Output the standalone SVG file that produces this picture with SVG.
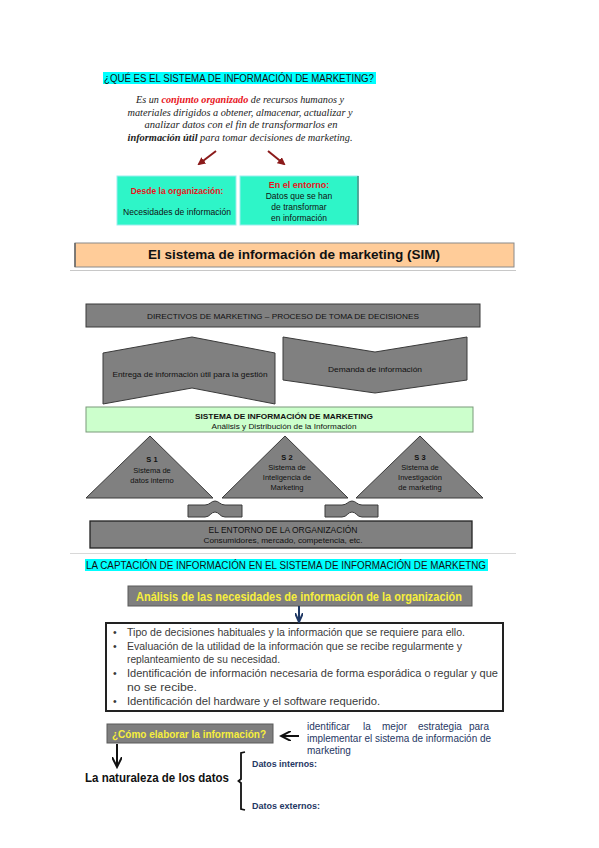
<svg xmlns="http://www.w3.org/2000/svg" width="599" height="848" viewBox="0 0 599 848">
<style>
.sans{font-family:"Liberation Sans",Arial,sans-serif}
.serif{font-family:"Liberation Serif","Times New Roman",serif}
.gshape{fill:#808080;stroke:#3a3a3a;stroke-width:1}
.gt{font-family:"Liberation Sans",Arial,sans-serif;fill:#111;text-anchor:middle}
.aqua{fill:#2ef5c8;stroke:#9ee;stroke-width:1}
.bul{font-family:"Liberation Sans",Arial,sans-serif;font-size:10.5px;fill:#3a3a3a}
.navy{fill:#1f3864}
.yel{font-family:"Liberation Sans",Arial,sans-serif;font-weight:bold;fill:#f7ef3c}
</style>
<defs>
<marker id="mRed" markerWidth="8" markerHeight="8" refX="6" refY="4" orient="auto" markerUnits="userSpaceOnUse"><path d="M0,0 L8,4 L0,8 Z" fill="#8b1a1a"/></marker>
<marker id="mNavy" markerWidth="10" markerHeight="8" refX="8" refY="4" orient="auto" markerUnits="userSpaceOnUse"><path d="M0,0 L9,4 L0,8" fill="none" stroke="#1f3864" stroke-width="2"/></marker>
<marker id="mBlack" markerWidth="12" markerHeight="10" refX="10" refY="5" orient="auto" markerUnits="userSpaceOnUse"><path d="M0,0 L10,5 L0,10" fill="none" stroke="#111" stroke-width="2"/></marker>
</defs>
<rect width="599" height="848" fill="#fff"/>

<g id="titulo1">
<rect x="103" y="72" width="273" height="12" fill="#00ffff"/>
<text x="104" y="82" class="sans" font-size="10" textLength="270" lengthAdjust="spacingAndGlyphs" fill="#111">¿QUÉ ES EL SISTEMA DE INFORMACIÓN DE MARKETING?</text>
</g>

<g id="definicion" class="serif" font-style="italic" font-size="11" fill="#222" text-anchor="middle">
<text x="240" y="103" textLength="208" lengthAdjust="spacingAndGlyphs">Es un <tspan fill="#e8141b" font-weight="bold">conjunto organizado</tspan> de recursos humanos y</text>
<text x="240" y="116" textLength="225" lengthAdjust="spacingAndGlyphs">materiales dirigidos a obtener, almacenar, actualizar y</text>
<text x="241" y="128" textLength="193" lengthAdjust="spacingAndGlyphs">analizar datos con el fin de transformarlos en</text>
<text x="240" y="141" textLength="225" lengthAdjust="spacingAndGlyphs"><tspan font-weight="bold">información  útil</tspan> para tomar decisiones de marketing.</text>
</g>

<g id="organizacion">
<rect x="117" y="176" width="119" height="49" class="aqua"/>
<text x="177" y="194" class="sans" font-size="8.5" font-weight="bold" fill="#e8141b" text-anchor="middle">Desde la organización:</text>
<text x="177" y="215" class="sans" font-size="8.5" fill="#111" text-anchor="middle" textLength="108" lengthAdjust="spacingAndGlyphs">Necesidades de información</text>
</g>

<g id="entorno1">
<rect x="240" y="176" width="118" height="49" class="aqua"/>
<line x1="358" y1="176" x2="358" y2="225" stroke="#3a8f80" stroke-width="1.5"/>
<text x="299" y="188" class="sans" font-size="9" font-weight="bold" fill="#e8141b" text-anchor="middle">En el entorno:</text>
<text x="299" y="199" class="sans" font-size="8.5" fill="#111" text-anchor="middle">Datos que se han</text>
<text x="299" y="210" class="sans" font-size="8.5" fill="#111" text-anchor="middle">de transformar</text>
<text x="299" y="221" class="sans" font-size="8.5" fill="#111" text-anchor="middle">en información</text>
</g>

<g id="sim-titulo">
<rect x="75" y="243" width="439" height="24" fill="#ffcc99" stroke="#8a8a8a" stroke-width="1"/>
<line x1="75" y1="243" x2="75" y2="267" stroke="#666" stroke-width="1.5"/>
<text x="294" y="259" class="sans" font-size="12.5" font-weight="bold" fill="#111" text-anchor="middle" textLength="292" lengthAdjust="spacingAndGlyphs">El sistema de información de marketing (SIM)</text>
<line x1="70" y1="270.5" x2="516" y2="270.5" stroke="#c8c8c8" stroke-width="1"/>
</g>

<g id="directivos">
<rect x="86" y="304" width="394" height="23" class="gshape"/>
<text x="283" y="319" class="gt" font-size="8" textLength="272" lengthAdjust="spacingAndGlyphs">DIRECTIVOS DE MARKETING – PROCESO DE TOMA DE DECISIONES</text>
</g>

<g id="entrega">
<path d="M103,353 L192,337 L275,353 L275,404 L192,388 L103,404 Z" class="gshape"/>
<text x="190" y="377" class="gt" font-size="7.5" textLength="155" lengthAdjust="spacingAndGlyphs">Entrega de información útil para la gestión</text>
</g>

<g id="demanda">
<path d="M283,337 L375,352 L467,337 L467,380 L375,393 L283,380 Z" class="gshape"/>
<text x="375" y="372" class="gt" font-size="7.5" textLength="94" lengthAdjust="spacingAndGlyphs">Demanda de información</text>
</g>

<g id="sim">
<rect x="86" y="407" width="387" height="25" fill="#ccffcc" stroke="#7a9a7a" stroke-width="1"/>
<text x="284" y="419" class="gt" font-size="8" font-weight="bold" textLength="178" lengthAdjust="spacingAndGlyphs">SISTEMA DE INFORMACIÓN DE MARKETING</text>
<text x="284" y="428.5" class="gt" font-size="7.5" textLength="145" lengthAdjust="spacingAndGlyphs">Análisis y Distribución de la Información</text>
</g>

<g id="s1">
<path d="M150,436 L213,498 L86,498 Z" class="gshape"/>
<text x="152" y="462" class="gt" font-size="7.5" font-weight="bold">S 1</text>
<text x="152" y="472.5" class="gt" font-size="7.5">Sistema de</text>
<text x="152" y="482.5" class="gt" font-size="7.5">datos interno</text>
</g>

<g id="s2">
<path d="M285,436 L348,498 L222,498 Z" class="gshape"/>
<text x="287" y="460" class="gt" font-size="7.5" font-weight="bold">S 2</text>
<text x="287" y="469.5" class="gt" font-size="7.5">Sistema de</text>
<text x="287" y="479.5" class="gt" font-size="7.5">Inteligencia de</text>
<text x="287" y="489.5" class="gt" font-size="7.5">Marketing</text>
</g>

<g id="s3">
<path d="M420,436 L483,498 L356,498 Z" class="gshape"/>
<text x="420" y="460" class="gt" font-size="7.5" font-weight="bold">S 3</text>
<text x="420" y="469.5" class="gt" font-size="7.5">Sistema de</text>
<text x="420" y="479.5" class="gt" font-size="7.5">Investigación</text>
<text x="420" y="489.5" class="gt" font-size="7.5">de marketing</text>
</g>

<g id="flechas-entorno">
<path d="M188,505 L205,505 C210,505 211,501 215,501 C219,501 220,505 225,505 L242,505 L242,517 L225,517 C220,517 219,512 215,512 C211,512 210,517 205,517 L188,517 Z" class="gshape"/>
<path d="M325,505 L342,505 C347,505 348,501 352,501 C356,501 357,505 362,505 L378,505 L378,517 L362,517 C357,517 356,512 352,512 C348,512 347,517 342,517 L325,517 Z" class="gshape"/>
</g>

<g id="entorno">
<rect x="90" y="521" width="382" height="27" fill="#808080" stroke="#222" stroke-width="1.3"/>
<text x="283" y="533" class="gt" font-size="8.5" textLength="149" lengthAdjust="spacingAndGlyphs">EL ENTORNO DE LA ORGANIZACIÓN</text>
<text x="283" y="543" class="gt" font-size="7.5" textLength="159" lengthAdjust="spacingAndGlyphs">Consumidores, mercado, competencia, etc.</text>
<line x1="70" y1="553.5" x2="516" y2="553.5" stroke="#d8d8d8" stroke-width="1"/>
</g>

<g id="captacion">
<rect x="85" y="559" width="403" height="12" fill="#00ffff"/>
<text x="86" y="569" class="sans" font-size="10" fill="#111" textLength="400" lengthAdjust="spacingAndGlyphs">LA CAPTACIÓN DE INFORMACIÓN EN EL SISTEMA DE INFORMACIÓN DE MARKETNG</text>
</g>

<g id="analisis">
<rect x="128" y="586" width="344" height="20" fill="#7f7f7f" stroke="#5a5a5a" stroke-width="1"/>
<text x="136" y="600.5" class="yel" font-size="12.5" textLength="326" lengthAdjust="spacingAndGlyphs">Análisis de las necesidades de información de la organización</text>
</g>

<g id="necesidades">
<rect x="106" y="623" width="397" height="88" fill="#fff" stroke="#222" stroke-width="2"/>
<g class="bul">
<text x="113" y="636">•</text>
<text x="113" y="650">•</text>
<text x="113" y="677">•</text>
<text x="113" y="705">•</text>
<text x="127" y="636" textLength="338" lengthAdjust="spacingAndGlyphs">Tipo de decisiones habituales y la información que se requiere para ello.</text>
<text x="127" y="650" textLength="335" lengthAdjust="spacingAndGlyphs">Evaluación de la utilidad de la información que se recibe regularmente y</text>
<text x="127" y="663" textLength="153" lengthAdjust="spacingAndGlyphs">replanteamiento de su necesidad.</text>
<text x="127" y="677" textLength="371" lengthAdjust="spacingAndGlyphs">Identificación de información necesaria de forma esporádica o regular y que</text>
<text x="127" y="691" textLength="70" lengthAdjust="spacingAndGlyphs">no se recibe.</text>
<text x="127" y="705" textLength="253" lengthAdjust="spacingAndGlyphs">Identificación del hardware y el software requerido.</text>
</g>
</g>

<g id="como">
<rect x="107" y="724" width="166" height="19" fill="#7f7f7f" stroke="#5a5a5a" stroke-width="1"/>
<text x="112" y="738" class="yel" font-size="11.5" textLength="154" lengthAdjust="spacingAndGlyphs">¿Cómo elaborar la información?</text>
</g>

<g id="estrategia" class="sans navy" font-size="10">
<text y="730"><tspan x="307">identificar</tspan><tspan x="363">la</tspan><tspan x="382">mejor</tspan><tspan x="418">estrategia</tspan><tspan x="469">para</tspan></text>
<text x="307" y="742" textLength="184" lengthAdjust="spacingAndGlyphs">implementar el sistema de información de</text>
<text x="307" y="754">marketing</text>
</g>

<g id="naturaleza">
<text x="85" y="782" class="sans" font-size="13" font-weight="bold" fill="#111" textLength="144" lengthAdjust="spacingAndGlyphs">La naturaleza de los datos</text>
<path d="M245,752 L241,753 L241,779 L238.5,781 L241,783 L241,809 L245,810" fill="none" stroke="#111" stroke-width="1.8"/>
<text x="252" y="767" class="sans navy" font-size="8.5" font-weight="bold" textLength="65" lengthAdjust="spacingAndGlyphs">Datos internos:</text>
<text x="252" y="809" class="sans navy" font-size="8.5" font-weight="bold" textLength="68" lengthAdjust="spacingAndGlyphs">Datos externos:</text>
</g>

<g id="conectores">
<line x1="216" y1="151" x2="199" y2="164" stroke="#8b1a1a" stroke-width="2" marker-end="url(#mRed)"/>
<line x1="268" y1="151" x2="284" y2="164" stroke="#8b1a1a" stroke-width="2" marker-end="url(#mRed)"/>
<line x1="299" y1="606" x2="299" y2="621" stroke="#1f3864" stroke-width="2" marker-end="url(#mNavy)"/>
<line x1="299" y1="736" x2="281" y2="736" stroke="#111" stroke-width="2" marker-end="url(#mBlack)"/>
<line x1="117" y1="744" x2="117" y2="767" stroke="#111" stroke-width="2" marker-end="url(#mBlack)"/>
</g>
</svg>
